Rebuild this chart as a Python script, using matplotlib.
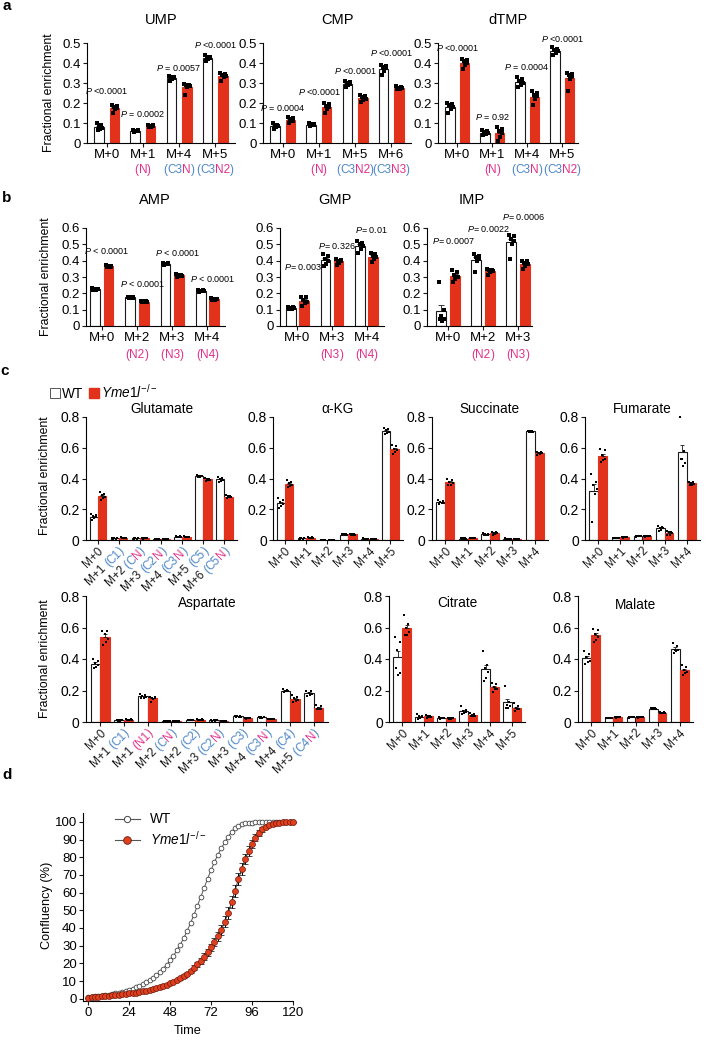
import re
import numpy as np
import matplotlib
matplotlib.use('Agg')
import matplotlib.pyplot as plt
import matplotlib.transforms as mtransforms
from matplotlib.font_manager import FontProperties
from matplotlib.patches import Patch
from matplotlib.lines import Line2D

plt.rcParams['font.family'] = ['Liberation Sans', 'DejaVu Sans']
plt.rcParams['mathtext.fontset'] = 'custom'
plt.rcParams['mathtext.rm'] = 'Liberation Sans'
plt.rcParams['mathtext.it'] = 'Liberation Sans:italic'
plt.rcParams['axes.linewidth'] = 0.8

# ── colours ────────────────────────────────────────────────────────────────
RED = '#E3321B'
BLUE = '#4B86C9'
PINK = '#E2308A'
INK = '#1a1a1a'

W, H, DPI = 708, 1040, 100

# ── panel a: pyrimidines ───────────────────────────────────────────────────
UMP_LABELS = ['M+0', 'M+1', 'M+4', 'M+5']
UMP_SUB = ['', '(N)', '(C3N)', '(C3N2)']
UMP_WT = [[0.10, 0.09, 0.08, 0.075, 0.07, 0.065],
          [0.065, 0.063, 0.06, 0.06, 0.058, 0.054],
          [0.335, 0.33, 0.328, 0.325, 0.32, 0.31],
          [0.44, 0.43, 0.428, 0.425, 0.42, 0.41]]
UMP_KO = [[0.19, 0.185, 0.18, 0.175, 0.17, 0.15],
          [0.092, 0.09, 0.086, 0.084, 0.08, 0.078],
          [0.295, 0.29, 0.288, 0.285, 0.28, 0.24],
          [0.35, 0.345, 0.34, 0.335, 0.33, 0.31]]
UMP_P = ['<0.0001', '= 0.0002', '= 0.0057', '<0.0001']
UMP_PY = [0.26, 0.145, 0.375, 0.49]

CMP_LABELS = ['M+0', 'M+1', 'M+5', 'M+6']
CMP_SUB = ['', '(N)', '(C3N2)', '(C3N3)']
CMP_WT = [[0.10, 0.09, 0.087, 0.085, 0.08, 0.07],
          [0.10, 0.095, 0.093, 0.09, 0.088, 0.086],
          [0.31, 0.305, 0.30, 0.295, 0.29, 0.28],
          [0.39, 0.385, 0.38, 0.375, 0.36, 0.34]]
CMP_KO = [[0.13, 0.125, 0.118, 0.112, 0.108, 0.10],
          [0.20, 0.195, 0.185, 0.18, 0.17, 0.15],
          [0.24, 0.235, 0.228, 0.222, 0.215, 0.205],
          [0.285, 0.28, 0.277, 0.275, 0.272, 0.268]]
CMP_P = ['= 0.0004', '<0.0001', '<0.0001', '<0.0001']
CMP_PY = [0.175, 0.255, 0.36, 0.45]

DTMP_LABELS = ['M+0', 'M+1', 'M+4', 'M+5']
DTMP_SUB = ['', '(N)', '(C3N)', '(C3N2)']
DTMP_WT = [[0.20, 0.195, 0.19, 0.18, 0.17, 0.15],
           [0.065, 0.06, 0.055, 0.05, 0.045, 0.04],
           [0.33, 0.32, 0.31, 0.30, 0.29, 0.28],
           [0.48, 0.47, 0.465, 0.46, 0.45, 0.44]]
DTMP_KO = [[0.42, 0.415, 0.41, 0.40, 0.39, 0.37],
           [0.08, 0.07, 0.06, 0.05, 0.03, 0.01],
           [0.26, 0.25, 0.24, 0.235, 0.22, 0.19],
           [0.35, 0.345, 0.34, 0.335, 0.32, 0.26]]
DTMP_P = ['<0.0001', '= 0.92', '= 0.0004', '<0.0001']
DTMP_PY = [0.475, 0.13, 0.38, 0.52]

# ── panel b: purines ───────────────────────────────────────────────────────
AMP_LABELS = ['M+0', 'M+2', 'M+3', 'M+4']
AMP_SUB = ['', '(N2)', '(N3)', '(N4)']
AMP_WT = [[0.23, 0.228, 0.226, 0.224, 0.222, 0.22],
          [0.18, 0.178, 0.176, 0.174, 0.172, 0.17],
          [0.385, 0.383, 0.381, 0.379, 0.377, 0.375],
          [0.22, 0.218, 0.216, 0.214, 0.212, 0.21]]
AMP_KO = [[0.372, 0.37, 0.367, 0.364, 0.362, 0.36],
          [0.155, 0.153, 0.151, 0.149, 0.147, 0.145],
          [0.318, 0.315, 0.312, 0.309, 0.306, 0.303],
          [0.17, 0.168, 0.166, 0.164, 0.162, 0.16]]
AMP_P = [' < 0.0001', ' < 0.0001', ' < 0.0001', ' < 0.0001']
AMP_PY = [0.46, 0.26, 0.45, 0.29]

GMP_LABELS = ['M+0', 'M+3', 'M+4']
GMP_SUB = ['', '(N3)', '(N4)']
GMP_WT = [[0.118, 0.114, 0.112, 0.108, 0.106, 0.102],
          [0.44, 0.43, 0.41, 0.40, 0.38, 0.37],
          [0.52, 0.51, 0.50, 0.49, 0.47, 0.45]]
GMP_KO = [[0.18, 0.175, 0.16, 0.15, 0.14, 0.125],
          [0.41, 0.405, 0.40, 0.395, 0.385, 0.375],
          [0.45, 0.44, 0.43, 0.425, 0.41, 0.39]]
GMP_P = ['= 0.003', '= 0.326', '= 0.01']
GMP_PY = [0.36, 0.49, 0.59]

IMP_LABELS = ['M+0', 'M+2', 'M+3']
IMP_SUB = ['', '(N2)', '(N3)']
IMP_WT = [[0.27, 0.10, 0.06, 0.04, 0.03, 0.04],
          [0.44, 0.43, 0.42, 0.41, 0.40, 0.33],
          [0.56, 0.55, 0.53, 0.52, 0.50, 0.41]]
IMP_KO = [[0.34, 0.33, 0.31, 0.30, 0.29, 0.27],
          [0.35, 0.345, 0.34, 0.335, 0.33, 0.31],
          [0.40, 0.395, 0.385, 0.38, 0.37, 0.35]]
IMP_P = ['= 0.0007', '= 0.0022', '= 0.0006']
IMP_PY = [0.52, 0.595, 0.67]

# ── panel c: TCA intermediates ────────────────────────────────────────────
GLU_LABELS = ['M+0', 'M+1 (C1)', 'M+2 (CN)', 'M+3 (C2N)', 'M+4 (C3N)', 'M+5 (C5)', 'M+6 (C5N)']
GLU_WT = [[0.17, 0.16, 0.155, 0.15, 0.14, 0.13],
          [0.012, 0.011, 0.01, 0.01, 0.009, 0.008],
          [0.011, 0.01, 0.01, 0.01, 0.009, 0.009],
          [0.006, 0.006, 0.005, 0.005, 0.005, 0.004],
          [0.024, 0.023, 0.022, 0.021, 0.02, 0.019],
          [0.42, 0.418, 0.416, 0.414, 0.412, 0.41],
          [0.41, 0.405, 0.395, 0.39, 0.385, 0.38]]
GLU_KO = [[0.31, 0.30, 0.29, 0.28, 0.275, 0.26],
          [0.017, 0.016, 0.015, 0.015, 0.014, 0.013],
          [0.011, 0.011, 0.01, 0.01, 0.01, 0.009],
          [0.006, 0.005, 0.005, 0.005, 0.005, 0.004],
          [0.023, 0.022, 0.021, 0.02, 0.02, 0.019],
          [0.405, 0.40, 0.397, 0.393, 0.39, 0.385],
          [0.29, 0.287, 0.283, 0.28, 0.277, 0.273]]

AKG_LABELS = ['M+0', 'M+1', 'M+2', 'M+3', 'M+4', 'M+5']
AKG_WT = [[0.27, 0.26, 0.25, 0.235, 0.22, 0.21],
          [0.012, 0.011, 0.01, 0.01, 0.009, 0.008],
          [0.0015, 0.001, 0.001, 0.001, 0.001, 0.0005],
          [0.04, 0.038, 0.036, 0.034, 0.032, 0.03],
          [0.01, 0.009, 0.008, 0.008, 0.007, 0.006],
          [0.73, 0.725, 0.715, 0.705, 0.695, 0.69]]
AKG_KO = [[0.39, 0.38, 0.37, 0.36, 0.35, 0.345],
          [0.018, 0.017, 0.016, 0.015, 0.014, 0.013],
          [0.0015, 0.001, 0.001, 0.001, 0.001, 0.0005],
          [0.042, 0.039, 0.037, 0.035, 0.033, 0.031],
          [0.009, 0.008, 0.008, 0.007, 0.007, 0.006],
          [0.62, 0.61, 0.595, 0.585, 0.57, 0.56]]

SUC_LABELS = ['M+0', 'M+1', 'M+2', 'M+3', 'M+4']
SUC_WT = [[0.26, 0.255, 0.248, 0.242, 0.238, 0.235],
          [0.011, 0.01, 0.01, 0.009, 0.009, 0.008],
          [0.045, 0.042, 0.038, 0.035, 0.032, 0.03],
          [0.01, 0.009, 0.008, 0.008, 0.007, 0.006],
          [0.712, 0.71, 0.707, 0.704, 0.702, 0.70]]
SUC_KO = [[0.40, 0.39, 0.38, 0.37, 0.36, 0.355],
          [0.014, 0.013, 0.012, 0.012, 0.011, 0.01],
          [0.055, 0.052, 0.048, 0.045, 0.04, 0.03],
          [0.009, 0.008, 0.008, 0.007, 0.007, 0.006],
          [0.572, 0.57, 0.567, 0.563, 0.56, 0.555]]

FUM_LABELS = ['M+0', 'M+1', 'M+2', 'M+3', 'M+4']
FUM_WT = [[0.43, 0.38, 0.36, 0.33, 0.30, 0.12],
          [0.015, 0.013, 0.012, 0.012, 0.011, 0.01],
          [0.028, 0.027, 0.026, 0.025, 0.024, 0.022],
          [0.09, 0.085, 0.08, 0.075, 0.065, 0.06],
          [0.80, 0.58, 0.53, 0.50, 0.48, 0.53]]
FUM_KO = [[0.59, 0.585, 0.55, 0.53, 0.52, 0.505],
          [0.022, 0.02, 0.019, 0.018, 0.017, 0.015],
          [0.028, 0.027, 0.026, 0.025, 0.024, 0.022],
          [0.06, 0.055, 0.05, 0.045, 0.035, 0.03],
          [0.38, 0.375, 0.37, 0.365, 0.36, 0.355]]

ASP_LABELS = ['M+0', 'M+1 (C1)', 'M+1 (N1)', 'M+2 (CN)', 'M+2 (C2)', 'M+3 (C2N)',
              'M+3 (C3)', 'M+4 (C3N)', 'M+4 (C4)', 'M+5 (C4N)']
ASP_WT = [[0.40, 0.39, 0.375, 0.36, 0.35, 0.34],
          [0.012, 0.011, 0.01, 0.01, 0.009, 0.008],
          [0.175, 0.17, 0.165, 0.16, 0.155, 0.15],
          [0.009, 0.009, 0.008, 0.008, 0.008, 0.007],
          [0.014, 0.013, 0.012, 0.012, 0.011, 0.01],
          [0.011, 0.011, 0.01, 0.01, 0.009, 0.009],
          [0.04, 0.038, 0.036, 0.034, 0.032, 0.03],
          [0.034, 0.032, 0.03, 0.03, 0.028, 0.026],
          [0.21, 0.205, 0.20, 0.198, 0.195, 0.19],
          [0.20, 0.195, 0.185, 0.175, 0.17, 0.165]]
ASP_KO = [[0.58, 0.575, 0.56, 0.53, 0.51, 0.49],
          [0.017, 0.016, 0.015, 0.015, 0.014, 0.013],
          [0.16, 0.158, 0.155, 0.15, 0.145, 0.13],
          [0.009, 0.009, 0.008, 0.008, 0.008, 0.007],
          [0.017, 0.016, 0.015, 0.015, 0.014, 0.013],
          [0.009, 0.009, 0.008, 0.008, 0.007, 0.007],
          [0.028, 0.027, 0.025, 0.024, 0.023, 0.022],
          [0.022, 0.021, 0.02, 0.019, 0.018, 0.017],
          [0.17, 0.16, 0.15, 0.14, 0.135, 0.13],
          [0.11, 0.10, 0.09, 0.085, 0.08, 0.08]]

CIT_LABELS = ['M+0', 'M+1', 'M+2', 'M+3', 'M+4', 'M+5']
CIT_WT = [[0.54, 0.51, 0.46, 0.31, 0.30, 0.34],
          [0.05, 0.04, 0.035, 0.03, 0.025, 0.02],
          [0.03, 0.028, 0.026, 0.025, 0.023, 0.02],
          [0.10, 0.075, 0.07, 0.065, 0.06, 0.05],
          [0.45, 0.36, 0.34, 0.32, 0.28, 0.26],
          [0.23, 0.13, 0.11, 0.10, 0.09, 0.09]]
CIT_KO = [[0.68, 0.62, 0.60, 0.57, 0.55, 0.55],
          [0.045, 0.04, 0.035, 0.032, 0.03, 0.028],
          [0.028, 0.027, 0.025, 0.024, 0.022, 0.02],
          [0.055, 0.05, 0.045, 0.04, 0.04, 0.04],
          [0.25, 0.24, 0.22, 0.21, 0.21, 0.19],
          [0.12, 0.10, 0.09, 0.08, 0.08, 0.07]]

MAL_LABELS = ['M+0', 'M+1', 'M+2', 'M+3', 'M+4']
MAL_WT = [[0.45, 0.43, 0.41, 0.39, 0.38, 0.37],
          [0.026, 0.025, 0.025, 0.024, 0.024, 0.023],
          [0.034, 0.032, 0.031, 0.03, 0.029, 0.028],
          [0.09, 0.088, 0.086, 0.084, 0.082, 0.08],
          [0.50, 0.48, 0.46, 0.455, 0.45, 0.44]]
MAL_KO = [[0.59, 0.585, 0.56, 0.54, 0.52, 0.51],
          [0.031, 0.03, 0.03, 0.029, 0.029, 0.028],
          [0.033, 0.032, 0.031, 0.03, 0.029, 0.028],
          [0.064, 0.062, 0.06, 0.058, 0.056, 0.055],
          [0.36, 0.35, 0.33, 0.32, 0.31, 0.30]]

# ── panel d: confluency over time ─────────────────────────────────────────
TIME = [0, 2, 4, 6, 8, 10, 12, 14, 16, 18, 20, 22, 24, 26, 28, 30, 32, 34, 36, 38,
        40, 42, 44, 46, 48, 50, 52, 54, 56, 58, 60, 62, 64, 66, 68, 70, 72, 74, 76, 78,
        80, 82, 84, 86, 88, 90, 92, 94, 96, 98, 100, 102, 104, 106, 108, 110, 112, 114,
        116, 118, 120]
CONF_WT = [0.8, 1.0, 1.3, 1.5, 1.8, 2.0, 2.3, 2.6, 3.0, 3.4,
           3.9, 4.4, 5.0, 5.7, 6.4, 7.2, 8.1, 9.2, 10.4, 11.8,
           13.3, 15.0, 17.0, 19.2, 21.6, 24.3, 27.3, 30.6, 34.3, 38.4,
           42.8, 47.5, 52.5, 57.6, 62.8, 67.9, 72.8, 77.3, 81.4, 85.0,
           88.4, 91.6, 94.2, 96.4, 97.8, 98.7, 99.2, 99.5, 99.6, 99.7,
           99.7, 99.8, 99.8, 99.8, 99.8, 99.8, 99.8, 99.9, 99.9, 99.9, 99.9]
CONF_WT_ERR = [0.1, 0.1, 0.1, 0.1, 0.1, 0.1, 0.1, 0.1, 0.1, 0.1,
               0.1, 0.1, 0.1, 0.2, 0.2, 0.2, 0.2, 0.2, 0.3, 0.3,
               0.3, 0.3, 0.4, 0.4, 0.4, 0.5, 0.5, 0.6, 0.6, 0.7,
               0.7, 0.8, 0.8, 0.9, 0.9, 0.9, 0.9, 0.9, 0.8, 0.8,
               0.7, 0.6, 0.5, 0.4, 0.3, 0.2, 0.2, 0.1, 0.1, 0.1,
               0.1, 0.1, 0.1, 0.1, 0.1, 0.1, 0.1, 0.1, 0.1, 0.1, 0.1]
CONF_KO = [0.5, 0.7, 0.9, 1.1, 1.3, 1.5, 1.7, 1.9, 2.1, 2.3,
           2.5, 2.7, 3.0, 3.2, 3.5, 3.8, 4.1, 4.5, 4.9, 5.4,
           5.9, 6.5, 7.1, 7.8, 8.6, 9.5, 10.5, 11.6, 12.8, 14.2,
           15.8, 17.5, 19.4, 21.5, 23.8, 26.3, 29.0, 32.0, 35.3, 39.0,
           43.5, 48.5, 54.5, 61.0, 67.5, 73.5, 79.0, 83.5, 87.5, 91.0,
           93.8, 95.8, 97.3, 98.3, 99.0, 99.4, 99.6, 99.7, 99.8, 99.8, 99.8]
CONF_KO_ERR = [0.1, 0.1, 0.1, 0.1, 0.1, 0.1, 0.1, 0.1, 0.1, 0.1,
               0.1, 0.1, 0.2, 0.2, 0.2, 0.2, 0.2, 0.3, 0.3, 0.3,
               0.3, 0.4, 0.4, 0.5, 0.5, 0.6, 0.7, 0.8, 0.9, 1.0,
               1.1, 1.3, 1.4, 1.6, 1.8, 2.0, 2.2, 2.4, 2.6, 2.8,
               3.0, 3.2, 3.3, 3.4, 3.4, 3.3, 3.1, 2.8, 2.5, 2.1,
               1.7, 1.3, 1.0, 0.7, 0.5, 0.4, 0.3, 0.2, 0.2, 0.1, 0.1]

KO_NAME = r'$\mathit{Yme1l}^{-/-}$'

# ── figure ─────────────────────────────────────────────────────────────────
fig = plt.figure(figsize=(W / DPI, H / DPI), dpi=DPI)
RENDER = fig.canvas.get_renderer()
JIT = np.array([-0.28, 0.22, -0.05, 0.30, 0.08, -0.18])   # dot spread inside a bar


def px_axes(l, t, r, b):
    return fig.add_axes([l / W, 1 - b / H, (r - l) / W, (b - t) / H])


def fig_text(xpx, ypx, s, **kw):
    fig.text(xpx / W, 1 - ypx / H, s, ha='center', va='center', **kw)


def style_axes(ax, xlim, ylim, yticks, ylabels, n, fs=9.5):
    ax.set_xlim(*xlim)
    ax.set_ylim(*ylim)
    ax.spines[['top', 'right']].set_visible(False)
    ax.set_yticks(yticks)
    ax.set_yticklabels(ylabels)
    ax.set_xticks(range(n))
    ax.tick_params(length=3, width=0.8, labelsize=fs, pad=1.5, color=INK)


def draw_bars(ax, wt, ko, bw, sep, ms, cap):
    for data, dx, fc, ec in ((wt, -sep, 'white', INK), (ko, sep, RED, RED)):
        for i, pts in enumerate(data):
            pts = np.asarray(pts)
            m = pts.mean()
            sem = pts.std(ddof=1) / np.sqrt(len(pts))
            ax.bar(i + dx, m, bw, color=fc, edgecolor=ec, lw=0.8, zorder=2)
            ax.errorbar(i + dx, m, yerr=[[0], [sem]], color=INK, lw=0.6,
                        capsize=cap, capthick=0.6, zorder=3)
            ax.plot(i + dx + JIT[:len(pts)] * bw, pts, 's', color='black',
                    ms=ms, mew=0, zorder=4, clip_on=False)


def segments(label):
    """'M+4 (C3N)' -> black main part, blue carbon, pink nitrogen."""
    if '(' not in label:
        return [(label, INK)]
    main, inner = label.split('(')
    inner = inner.rstrip(')')
    pc = BLUE if inner.startswith('C') else PINK
    segs = [(main, INK)] if main else []
    segs.append(('(', pc))
    for tok in re.findall(r'[CN]\d*', inner):
        segs.append((tok, BLUE if tok[0] == 'C' else PINK))
    segs.append((')', pc))
    return segs


def seg_text(ax, x, dy, label, fs, rot=0):
    segs = segments(label)
    prop = FontProperties(family='Liberation Sans', size=fs)

    def tw(s):
        return RENDER.get_text_width_height_descent(s, prop, ismath=False)[0]

    total = tw(''.join(s for s, _ in segs))
    cap = 0.716 * fs * DPI / 72
    th = np.radians(rot)
    ux, uy = np.cos(th), np.sin(th)
    if rot == 0:
        x0, y0 = -total / 2, -dy - cap / 2
    else:
        x0 = cap * np.sin(th) - total * ux
        y0 = -dy - cap * np.cos(th) - total * uy
    base = mtransforms.blended_transform_factory(ax.transData, ax.transAxes)
    prefix = ''
    for s, c in segs:
        off = tw(prefix + 'H') - tw('H') if prefix else 0.0
        tr = base + mtransforms.Affine2D().translate(x0 + off * ux, y0 + off * uy)
        ax.text(x, 0, s, transform=tr, color=c, fontsize=fs, rotation=rot,
                rotation_mode='anchor', ha='left', va='baseline', clip_on=False)
        prefix += s


# ── a ──────────────────────────────────────────────────────────────────────
YT5 = [0, 0.1, 0.2, 0.3, 0.4, 0.5]
YL5 = ['0', '0.1', '0.2', '0.3', '0.4', '0.5']
panel_a = [
    ('UMP', UMP_LABELS, UMP_SUB, UMP_WT, UMP_KO, UMP_P, UMP_PY, (87, 235), (-0.55, 3.55)),
    ('CMP', CMP_LABELS, CMP_SUB, CMP_WT, CMP_KO, CMP_P, CMP_PY, (263, 411), (-0.55, 3.55)),
    ('dTMP', DTMP_LABELS, DTMP_SUB, DTMP_WT, DTMP_KO, DTMP_P, DTMP_PY, (438, 578), (-0.55, 3.45)),
]
for name, labels, subs, wt, ko, ptxt, py, (l, r), xlim in panel_a:
    ax = px_axes(l, 43, r, 143)
    draw_bars(ax, wt, ko, 0.27, 0.21, 2.8, 2.2)
    style_axes(ax, xlim, (0, 0.5), YT5, YL5, len(labels))
    ax.set_xticklabels(labels)
    for i, sub in enumerate(subs):
        if sub:
            seg_text(ax, i, 26, sub, 8.5)
    for i, (t, y) in enumerate(zip(ptxt, py)):
        ax.text(i, y, r'$\mathit{P}$ ' + t, ha='center', va='center',
                fontsize=6.5, clip_on=False)
    fig_text((l + r) / 2, 20, name, fontsize=10.5)

fig_text(49, 93, 'Fractional enrichment', rotation=90, fontsize=8.8)
fig_text(7, 6, 'a', fontsize=11, fontweight='bold')

# ── b ──────────────────────────────────────────────────────────────────────
YT6 = [0, 0.1, 0.2, 0.3, 0.4, 0.5, 0.6]
YL6 = ['0', '0.1', '0.2', '0.3', '0.4', '0.5', '0.6']
panel_b = [
    ('AMP', AMP_LABELS, AMP_SUB, AMP_WT, AMP_KO, AMP_P, AMP_PY, (86, 225), (-0.45, 3.5), 155),
    ('GMP', GMP_LABELS, GMP_SUB, GMP_WT, GMP_KO, GMP_P, GMP_PY, (280, 384), (-0.5, 2.5), 335),
    ('IMP', IMP_LABELS, IMP_SUB, IMP_WT, IMP_KO, IMP_P, IMP_PY, (427, 532), (-0.6, 2.4), 472),
]
for name, labels, subs, wt, ko, ptxt, py, (l, r), xlim, tx in panel_b:
    ax = px_axes(l, 228, r, 326)
    draw_bars(ax, wt, ko, 0.28, 0.19, 2.8, 2.2)
    style_axes(ax, xlim, (0, 0.6), YT6, YL6, len(labels))
    ax.set_xticklabels(labels)
    for i, sub in enumerate(subs):
        if sub:
            seg_text(ax, i, 28, sub, 8.5)
    for i, (t, y) in enumerate(zip(ptxt, py)):
        ax.text(i + 0.15, y, r'$\mathit{P}$' + t, ha='center', va='center',
                fontsize=6.5, clip_on=False)
    fig_text(tx, 200, name, fontsize=10.5)

fig_text(46, 277, 'Fractional enrichment', rotation=90, fontsize=8.8)
fig_text(7, 198, 'b', fontsize=11, fontweight='bold')

# ── c ──────────────────────────────────────────────────────────────────────
YT8 = [0, 0.2, 0.4, 0.6, 0.8]
YL8 = ['0', '0.2', '0.4', '0.6', '0.8']
panel_c = [
    ('Glutamate', GLU_LABELS, GLU_WT, GLU_KO, (86, 417, 237, 540), (-0.57, 6.6), -8),
    ('α-KG', AKG_LABELS, AKG_WT, AKG_KO, (273, 417, 403, 540), (-0.57, 5.6), -8),
    ('Succinate', SUC_LABELS, SUC_WT, SUC_KO, (432, 417, 548, 540), (-0.6, 4.6), -8),
    ('Fumarate', FUM_LABELS, FUM_WT, FUM_KO, (585, 417, 700, 540), (-0.6, 4.6), -8),
    ('Aspartate', ASP_LABELS, ASP_WT, ASP_KO, (86, 596, 328, 722), (-0.6, 9.6), 7),
    ('Citrate', CIT_LABELS, CIT_WT, CIT_KO, (389, 596, 525, 722), (-0.6, 5.6), 7),
    ('Malate', MAL_LABELS, MAL_WT, MAL_KO, (578, 596, 693, 722), (-0.6, 4.6), 9),
]
for name, labels, wt, ko, (l, t, r, b), xlim, ty in panel_c:
    ax = px_axes(l, t, r, b)
    draw_bars(ax, wt, ko, 0.4, 0.2, 2.0, 1.5)
    style_axes(ax, xlim, (0, 0.8), YT8, YL8, len(labels), fs=10)
    ax.set_xticklabels([])
    for i, lab in enumerate(labels):
        seg_text(ax, i, 5, lab, 8.5, rot=45)
    fig_text((l + r) / 2, t + ty, name, fontsize=9.8)

fig_text(45, 476, 'Fractional enrichment', rotation=90, fontsize=8.8)
fig_text(45, 659, 'Fractional enrichment', rotation=90, fontsize=8.8)
fig_text(5, 371, 'c', fontsize=11, fontweight='bold')
fig.legend(handles=[Patch(facecolor='white', edgecolor='#555555', lw=0.7),
                    Patch(facecolor=RED, edgecolor=RED)],
           labels=['WT', KO_NAME], loc='center left',
           bbox_to_anchor=(50 / W, 1 - 392 / H), ncol=2, frameon=False,
           fontsize=9.8, handlelength=0.75, handleheight=0.75, handletextpad=0.15,
           columnspacing=0.4, borderpad=0, borderaxespad=0)

# ── d ──────────────────────────────────────────────────────────────────────
axd = px_axes(83, 813, 293, 1001)
axd.errorbar(TIME, CONF_WT, yerr=CONF_WT_ERR, fmt='-o', color='#555555',
             mfc='white', mec='#444444', ms=3.4, mew=0.6, lw=0.7,
             elinewidth=0.5, capsize=0, zorder=3, clip_on=False)
axd.errorbar(TIME, CONF_KO, yerr=CONF_KO_ERR, fmt='-o', color='#333333',
             mfc='#E0401E', mec='#6b1a0c', ms=4.3, mew=0.5, lw=0.7,
             ecolor='black', elinewidth=0.7, capsize=2.2, capthick=0.7,
             zorder=4, clip_on=False)
axd.set_xlim(-3, 120)
axd.set_ylim(-1.3, 105)
axd.set_xticks([0, 24, 48, 72, 96, 120])
axd.set_yticks(range(0, 101, 10))
axd.spines[['top', 'right']].set_visible(False)
axd.tick_params(length=3, width=0.8, labelsize=9.5, pad=1.5, color=INK)
d_handles = [Line2D([], [], color='#555555', lw=0.8, marker='o', ms=4.5,
                    mfc='white', mec='#444444', mew=0.7),
             Line2D([], [], color='#555555', lw=0.8, marker='o', ms=5.5,
                    mfc='#E0401E', mec='#6b1a0c', mew=0.6)]
axd.legend(d_handles, ['WT', KO_NAME], loc='upper left',
           bbox_to_anchor=(0.12, 1.04), frameon=False, fontsize=9.8,
           handlelength=1.8, labelspacing=0.25, borderpad=0)
fig_text(47, 905, 'Confluency (%)', rotation=90, fontsize=9.2)
fig_text(188, 1031, 'Time', fontsize=9.2)
fig_text(7, 775, 'd', fontsize=11, fontweight='bold')

fig.savefig('out.png', dpi=DPI)
